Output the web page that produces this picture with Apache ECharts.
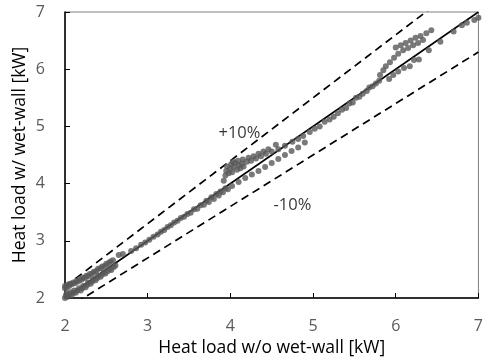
<!DOCTYPE html>
<html><head><meta charset="utf-8">
<script src="https://cdn.jsdelivr.net/npm/echarts@6/dist/echarts.min.js"></script>
<style>html,body{margin:0;padding:0;background:#fff}#c{width:486px;height:362px}</style>
</head><body><div id="c"></div>
<script>
var xTicks = [2, 3, 4, 5, 6, 7];
var yTicks = [2, 3, 4, 5, 6, 7];
var xTitle = 'Heat load w/o wet-wall [kW]';
var yTitle = 'Heat load w/ wet-wall [kW]';
// upper row of the low band (x 2.0 - 2.6)
var bandUpperX = [2.00,2.00,2.02,2.03,2.05,2.06,2.08,2.10,2.12,2.14,2.16,2.18,2.20,2.22,2.24,2.26,2.28,2.30,2.33,2.35,2.38,2.40,2.43,2.45,2.48,2.50,2.53,2.55,2.58,2.65,2.70];
var bandUpperY = [2.17,2.21,2.19,2.23,2.21,2.25,2.24,2.27,2.26,2.30,2.29,2.33,2.32,2.36,2.35,2.39,2.38,2.42,2.43,2.46,2.47,2.51,2.52,2.55,2.56,2.60,2.61,2.64,2.66,2.75,2.77];
// lower row of the low band, along the 1:1 line
var bandLowerX = [2.00,2.01,2.02,2.03,2.05,2.06,2.08,2.10,2.11,2.13,2.15,2.17,2.19,2.21,2.22,2.25,2.27,2.28,2.31,2.33,2.34,2.37,2.39,2.40,2.43,2.45,2.47,2.49,2.52,2.54,2.56,2.59,2.61];
var bandLowerY = [2.00,2.04,2.08,2.02,2.06,2.10,2.05,2.09,2.13,2.09,2.13,2.17,2.13,2.17,2.21,2.19,2.23,2.27,2.25,2.29,2.33,2.31,2.35,2.39,2.37,2.41,2.45,2.43,2.47,2.51,2.49,2.54,2.57];
// middle range along the line (x 2.8 - 4.0)
var midX = [2.80,2.86,2.92,2.97,3.02,3.07,3.12,3.16,3.20,3.24,3.28,3.32,3.36,3.40,3.44,3.48,3.52,3.56,3.60,3.64,3.68,3.71,3.74,3.77,3.80,3.83,3.86,3.88,3.91,3.94,3.97];
var midY = [2.82,2.87,2.93,2.97,3.02,3.07,3.11,3.16,3.19,3.24,3.27,3.32,3.35,3.40,3.42,3.47,3.49,3.55,3.56,3.62,3.63,3.70,3.68,3.76,3.73,3.82,3.79,3.86,3.85,3.92,3.90];
// cluster above the line (x 3.9 - 4.6)
var clusterX = [3.92,3.94,3.95,3.96,3.98,4.00,4.01,4.03,4.02,4.04,4.06,4.08,4.10,4.09,4.12,4.14,4.15,4.16,4.20,4.22,4.25,4.28,4.31,4.34,4.37,4.40,4.43,4.46,4.50,4.55];
var clusterY = [4.05,4.14,4.22,4.30,4.18,4.26,4.34,4.38,4.20,4.29,4.36,4.24,4.32,4.40,4.27,4.35,4.42,4.30,4.38,4.45,4.40,4.48,4.44,4.52,4.48,4.56,4.52,4.60,4.56,4.68];
// lower row diverging below the line (x 4.0 - 4.9)
var lowRowX = [4.02,4.10,4.18,4.26,4.34,4.42,4.50,4.58,4.66,4.74,4.82,4.90];
var lowRowY = [3.96,4.03,4.10,4.16,4.22,4.29,4.36,4.43,4.50,4.57,4.63,4.72];
// points along the line (x 4.4 - 5.9)
var lineX = [4.58,4.66,4.75,4.82,4.88,4.96,5.02,5.08,5.14,5.20,5.25,5.30,5.35,5.40,5.44,5.48,5.52,5.56,5.60,5.65,5.68,5.72,5.76,5.80];
var lineY = [4.60,4.66,4.73,4.78,4.83,4.90,4.96,5.00,5.08,5.12,5.17,5.23,5.29,5.32,5.40,5.42,5.50,5.52,5.57,5.62,5.68,5.70,5.75,5.80];
// upper branch (x 5.8 - 6.5)
var upperX = [5.81,5.85,5.88,5.93,5.98,6.03,6.09,6.15,6.21,6.27,6.33,6.00,6.06,6.12,6.18,6.24,6.30,6.37,6.43];
var upperY = [5.90,5.98,6.05,6.12,6.20,6.27,6.33,6.37,6.42,6.46,6.51,6.38,6.42,6.46,6.50,6.55,6.58,6.63,6.68];
// lower branch (x 5.9 - 7.0)
var highLowX = [5.92,5.97,6.03,6.10,6.17,6.22,6.28,6.40,6.54,6.70,6.80,6.86,6.95,7.00];
var highLowY = [5.83,5.90,5.96,6.02,6.05,6.16,6.17,6.33,6.48,6.66,6.77,6.81,6.86,6.90];

var refLine = [[2, 2], [7, 7]];
var plusLine = [[2, 2.2], [7, 7.7]];
var minusLine = [[2, 1.8], [7, 6.3]];
var annotations = [{text: '+10%', x: 4.11, y: 4.88}, {text: '-10%', x: 4.75, y: 3.62}];

function zip(xs, ys) { return xs.map(function (x, i) { return [x, ys[i]]; }); }
var pts = [].concat(
  zip(bandUpperX, bandUpperY), zip(bandLowerX, bandLowerY), zip(midX, midY),
  zip(clusterX, clusterY), zip(lowRowX, lowRowY), zip(lineX, lineY),
  zip(upperX, upperY), zip(highLowX, highLowY));
var font = 'Open Sans';
var chart = echarts.init(document.getElementById('c'), null, {renderer: 'canvas'});
chart.setOption({
  animation: false,
  grid: {left: 65, top: 12, width: 422, height: 288, show: true, borderColor: '#808080', borderWidth: 1, backgroundColor: 'transparent'},
  xAxis: {
    type: 'value', min: xTicks[0], max: xTicks[xTicks.length - 1], interval: 1,
    name: xTitle, nameLocation: 'middle', nameGap: 41, nameMoveOverlap: false,
    nameTextStyle: {fontFamily: font, fontSize: 17.5, color: '#000'},
    axisLine: {show: true, onZero: false, lineStyle: {color: '#000', width: 1.5}},
    axisTick: {show: true, inside: true, length: 5, lineStyle: {color: '#000'}},
    axisLabel: {margin: 20, fontFamily: font, fontSize: 16, color: '#595959'},
    splitLine: {show: false}
  },
  yAxis: {
    type: 'value', min: yTicks[0], max: yTicks[yTicks.length - 1], interval: 1,
    name: yTitle, nameLocation: 'middle', nameGap: 36, nameRotate: 90, nameMoveOverlap: false,
    nameTextStyle: {fontFamily: font, fontSize: 17.5, color: '#000'},
    axisLine: {show: true, onZero: false, lineStyle: {color: '#000', width: 1.5}},
    axisTick: {show: true, inside: true, length: 5, lineStyle: {color: '#000'}},
    axisLabel: {margin: 20, fontFamily: font, fontSize: 16, color: '#595959'},
    splitLine: {show: false}
  },
  series: [
    {type: 'line', data: refLine, symbol: 'none', lineStyle: {color: '#000', width: 1.6}, z: 3},
    {type: 'line', data: plusLine, symbol: 'none', lineStyle: {color: '#000', width: 1.7, type: [8, 5]}, z: 3},
    {type: 'line', data: minusLine, symbol: 'none', lineStyle: {color: '#000', width: 1.7, type: [8, 5]}, z: 3},
    {type: 'scatter', data: pts, symbol: 'circle', symbolSize: 6, itemStyle: {color: '#595959'}, z: 4},
    {type: 'scatter', data: annotations.map(function (a) { return {value: [a.x, a.y], label: {formatter: a.text}}; }),
     symbolSize: 0, z: 5,
     label: {show: true, position: 'inside', fontFamily: font, fontSize: 16.5, color: '#000'}}
  ]
});
</script></body></html>
